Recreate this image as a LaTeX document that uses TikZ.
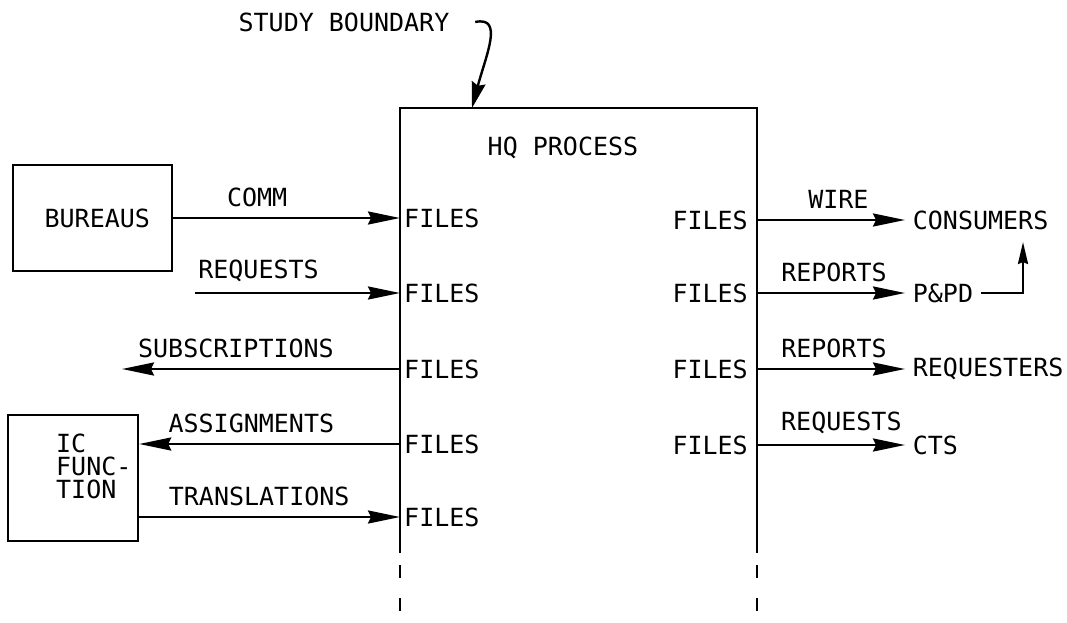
\documentclass[tikz,border=0pt]{standalone}
\usepackage{fontspec}
\setmainfont{DejaVu Sans Mono}
\usepackage{tikz}
\usetikzlibrary{arrows.meta}
\tikzset{
    flow/.style={-{Stealth[length=16pt, width=6.5pt, inset=1.5pt]}},
    upflow/.style={-{Stealth[length=11pt, width=5pt, inset=1pt]}},
    bflow/.style={-{Stealth[length=13pt, width=7pt, inset=1.5pt]}},
    box/.style={draw, rectangle},
    lbl/.style={above=3pt, inner sep=2pt},
    filesl/.style={anchor=west, inner xsep=1.5pt},
    filesr/.style={anchor=east, inner xsep=4pt},
    dest/.style={anchor=west},
    cutdash/.style={dash pattern=on 6.5pt off 10pt}}

\begin{document}
\begin{tikzpicture}[x=0.5pt, y=-0.5pt, line width=1.2pt, font=\fontsize{12.5}{15}\selectfont]
                \useasboundingbox (0,0) rectangle (1067,622);

                    \node (sb) at (344,22) {STUDY BOUNDARY};
                    \coordinate (bnd) at (472,108);
                    \node (hq) at (563,148) {HQ PROCESS};

                    \node[box, minimum width=79.5pt, minimum height=53pt, text width=57.5pt, align=right] (bur) at (92.5,218) {BUREAUS};
                    \node[box, minimum width=65pt, minimum height=63pt] (icf) at (73,478) {};
                    \node[align=left, anchor=north west, inner sep=0pt, font=\fontsize{12.5}{11.4}\selectfont] (ictxt) at (55,433) {IC\\FUNC-\\TION};

                    \node[filesl] (fl1) at (400,218) {FILES};
                    \node[filesl] (fl2) at (400,293) {FILES};
                    \node[filesl] (fl3) at (400,369) {FILES};
                    \node[filesl] (fl4) at (400,444) {FILES};
                    \node[filesl] (fl5) at (400,517) {FILES};
                    \node[filesr] (fr1) at (757,220) {FILES};
                    \node[filesr] (fr2) at (757,293) {FILES};
                    \node[filesr] (fr3) at (757,369) {FILES};
                    \node[filesr] (fr4) at (757,445) {FILES};

                    \node[dest] (cons) at (905,220) {CONSUMERS};
                    \node[dest] (ppd) at (905,293) {P\&PD};
                    \node[dest] (reqr) at (905,369) {REQUESTERS};
                    \node[dest] (cts) at (905,445) {CTS};

                    \coordinate (rqs) at (195,293);
                    \coordinate (sub) at (122,369);
                    \coordinate (cup) at (1023,242);

                    \draw (400,553) -- (400,108) -- (757,108) -- (757,553);
                    \draw[cutdash] (400,565) -- (400,622) (757,565) -- (757,622);
                    \draw[bflow] ([xshift=9pt]sb.east) .. controls (504,16) and (486,55) .. (bnd);

                    \draw[flow] (bur.east) -- (fl1.west) node[lbl, pos=0.37] {COMM};
                    \draw[flow] (rqs) -- (fl2.west) node[lbl, pos=0.31] {REQUESTS};
                    \draw[flow] (fl3.west) -- (sub) node[lbl, pos=0.59] {SUBSCRIPTIONS};
                    \draw[flow] (fl4.west) -- (fl4.west -| icf.east) node[lbl, pos=0.57] {ASSIGNMENTS};
                    \draw[flow] (icf.east |- fl5.west) -- (fl5.west) node[lbl, pos=0.46] {TRANSLATIONS};

                    \draw[flow] (fr1.east) -- (cons.west) node[lbl, pos=0.55] {WIRE};
                    \draw[flow] (fr2.east) -- (ppd.west) node[lbl, pos=0.52] {REPORTS};
                    \draw[flow] (fr3.east) -- (reqr.west) node[lbl, pos=0.52] {REPORTS};
                    \draw[flow] (fr4.east) -- (cts.west) node[lbl, pos=0.57] {REQUESTS};
                    \draw[upflow] (ppd.east) -| (cup);

                \end{tikzpicture}
\end{document}
